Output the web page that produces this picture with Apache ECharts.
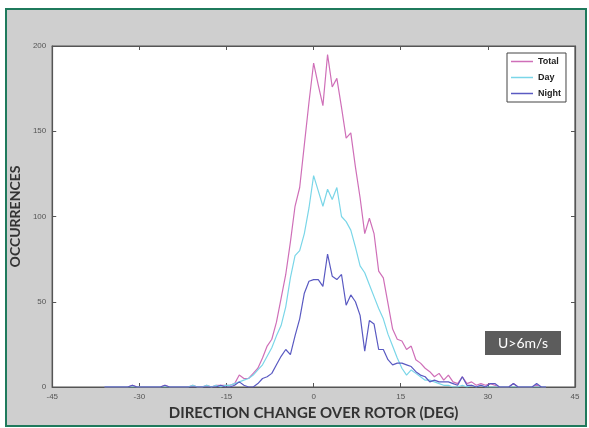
<!DOCTYPE html>
<html>
<head>
<meta charset="utf-8">
<script src="https://cdn.jsdelivr.net/npm/echarts@6/dist/echarts.min.js"></script>
<style>
  html, body { margin: 0; padding: 0; background: #fff; }
  #frame {
    position: absolute; left: 5px; top: 8px; width: 582px; height: 419px;
    box-sizing: border-box; border: 2px solid #1f7a5c;
    background: #cfcfcf;
  }
  #main { position: absolute; left: 0; top: 0; width: 589px; height: 428px; }
</style>
</head>
<body>
<div id="frame"></div>
<div id="main"></div>
<script>
// bin centres (deg)
const deg = [
  -36.0, -35.2, -34.4, -33.6, -32.8, -32.0, -31.2, -30.4, -29.6, -28.8,
  -28.0, -27.2, -26.4, -25.6, -24.8, -24.0, -23.2, -22.4, -21.6, -20.8,
  -20.0, -19.2, -18.4, -17.6, -16.8, -16.0, -15.2, -14.4, -13.6, -12.8,
  -12.0, -11.2, -10.4, -9.6, -8.8, -8.0, -7.2, -6.4, -5.6, -4.8,
  -4.0, -3.2, -2.4, -1.6, -0.8, 0.0, 0.8, 1.6, 2.4, 3.2,
  4.0, 4.8, 5.6, 6.4, 7.2, 8.0, 8.8, 9.6, 10.4, 11.2,
  12.0, 12.8, 13.6, 14.4, 15.2, 16.0, 16.8, 17.6, 18.4, 19.2,
  20.0, 20.8, 21.6, 22.4, 23.2, 24.0, 24.8, 25.6, 26.4, 27.2,
  28.0, 28.8, 29.6, 30.4, 31.2, 32.0, 32.8, 33.6, 34.4, 35.2,
  36.0, 36.8, 37.6, 38.4, 39.2, 40.0
];
const total = [
  0, 0, 0, 0, 0, 0, 1, 0, 0, 0,
  0, 0, 0, 1, 0, 0, 0, 0, 0, 1,
  0, 0, 1, 0, 1, 1, 1, 1, 2, 7,
  5, 5, 8, 11, 17, 24, 28, 38, 52, 66,
  85, 106, 117, 142, 167, 190, 177, 165, 195, 176,
  181, 164, 146, 149, 129, 111, 90, 99, 90, 68,
  64, 49, 34, 28, 27, 22, 24, 16, 14, 11,
  9, 6, 8, 4, 7, 3, 2, 6, 2, 3,
  1, 2, 1, 2, 1, 0, 0, 0, 2, 0,
  0, 0, 0, 1, 0, 0
];
const day = [
  0, 0, 0, 0, 0, 0, 0, 0, 0, 0,
  0, 0, 0, 0, 0, 0, 0, 0, 0, 1,
  0, 0, 1, 0, 1, 0, 1, 1, 2, 3,
  4, 5, 7, 10, 13, 18, 23, 30, 36, 47,
  64, 77, 80, 90, 105, 124, 115, 106, 116, 110,
  117, 100, 97, 92, 82, 71, 67, 60, 53, 46,
  40, 31, 24, 17, 11, 7, 10, 8, 6, 4,
  4, 3, 2, 1, 1, 0, 0, 1, 0, 1,
  0, 1, 0, 0, 0, 0, 0, 0, 0, 0,
  0, 0, 0, 0, 0, 0
];
const night = [
  0, 0, 0, 0, 0, 0, 1, 0, 0, 0,
  0, 0, 0, 1, 0, 0, 0, 0, 0, 0,
  0, 0, 0, 0, 0, 1, 0, 0, 1, 3,
  1, 0, 0, 2, 5, 6, 8, 13, 18, 22,
  19, 30, 40, 55, 62, 63, 63, 59, 78, 65,
  63, 66, 48, 54, 50, 42, 21, 39, 37, 22,
  22, 16, 13, 14, 14, 13, 12, 9, 7, 6,
  3, 4, 3, 3, 3, 2, 1, 6, 1, 1,
  0, 1, 0, 2, 2, 0, 0, 0, 2, 0,
  0, 0, 0, 2, 0, 0
];
const xTicks = [-45, 45, 15];
const yTicks = [0, 200, 50];

const pairs = vals => deg.map((d, i) => [d, vals[i]]);

const tickLabel = { fontSize: 8, color: '#555', fontFamily: 'Liberation Sans Narrow, Liberation Sans, sans-serif' };
const titleFont = { fontSize: 14, color: '#333', fontFamily: 'Lato, sans-serif', fontWeight: 'bold' };
const axisLine = { show: true, onZero: false, lineStyle: { color: '#555', width: 1.2 } };
const axisTick = { show: true, inside: true, length: 4, lineStyle: { color: '#555' } };

const chart = echarts.init(document.getElementById('main'));
chart.setOption({
  backgroundColor: 'transparent',
  animation: false,
  grid: {
    left: 47, right: 14, top: 46, bottom: 41,
    show: true, backgroundColor: '#fff', borderColor: '#555', borderWidth: 1.2
  },
  legend: {
    left: 507, top: 53, orient: 'vertical',
    backgroundColor: '#fff', borderColor: '#444', borderWidth: 1, borderRadius: 0,
    padding: [4, 5, 4, 4], itemGap: 7,
    icon: 'rect', itemWidth: 22, itemHeight: 1.5,
    textStyle: { fontSize: 9, color: '#222', fontFamily: 'Liberation Sans Narrow, Liberation Sans, sans-serif', fontWeight: 'bold' },
    data: ['Total', 'Day', 'Night']
  },
  xAxis: [{
    type: 'value', min: xTicks[0], max: xTicks[1], interval: xTicks[2],
    name: 'DIRECTION CHANGE OVER ROTOR (DEG)', nameLocation: 'middle', nameGap: 18,
    nameTextStyle: Object.assign({}, titleFont, { fontSize: 15 }),
    axisLine: axisLine, axisTick: axisTick,
    axisLabel: Object.assign({ margin: 6 }, tickLabel),
    splitLine: { show: false }
  }, {
    type: 'value', position: 'top', min: xTicks[0], max: xTicks[1], interval: xTicks[2],
    axisLine: axisLine, axisTick: axisTick,
    axisLabel: { show: false }, splitLine: { show: false }
  }],
  yAxis: [{
    type: 'value', min: yTicks[0], max: yTicks[1], interval: yTicks[2],
    name: 'OCCURRENCES', nameLocation: 'middle', nameGap: 22,
    nameTextStyle: titleFont,
    axisLine: axisLine, axisTick: axisTick,
    axisLabel: Object.assign({ margin: 6 }, tickLabel),
    splitLine: { show: false }
  }, {
    type: 'value', position: 'right', min: yTicks[0], max: yTicks[1], interval: yTicks[2],
    axisLine: axisLine, axisTick: axisTick,
    axisLabel: { show: false }, splitLine: { show: false }
  }],
  series: [
    { name: 'Total', type: 'line', data: pairs(total), symbol: 'none', color: '#cf6fb8', lineStyle: { width: 1.2 } },
    { name: 'Day', type: 'line', data: pairs(day), symbol: 'none', color: '#7ad6e8', lineStyle: { width: 1.2 } },
    { name: 'Night', type: 'line', data: pairs(night), symbol: 'none', color: '#5a5ac2', lineStyle: { width: 1.2 } }
  ],
  graphic: [{
    type: 'group', left: 485, top: 331,
    children: [
      { type: 'rect', shape: { x: 0, y: 0, width: 76, height: 24 }, style: { fill: '#5c5c5c' } },
      { type: 'text', x: 38, y: 12, style: { text: 'U>6m/s', fill: '#fff', fontSize: 14, fontFamily: 'Lato, sans-serif', align: 'center', verticalAlign: 'middle' } }
    ]
  }]
});
</script>
</body>
</html>
